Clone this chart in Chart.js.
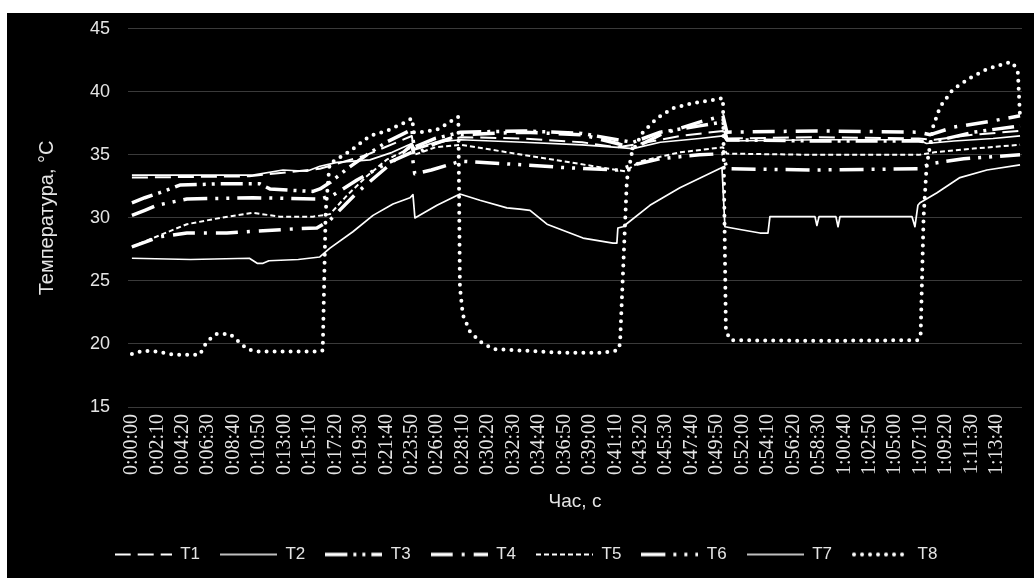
<!DOCTYPE html>
<html lang="uk">
<head>
<meta charset="utf-8">
<title>Температура T1–T8</title>
<script src="https://cdn.jsdelivr.net/npm/chart.js@4.4.1/dist/chart.umd.min.js"></script>
<style>
  html, body { margin: 0; padding: 0; background: #fff; }
  #chart { display: block; }
</style>
</head>
<body>
<canvas id="chart" width="1034" height="578"></canvas>
<script>
// Підписи осі часу (крок 2:10 = 130 с)
const tickStep = 130;
const tickLabels = [
    '0:00:00', '0:02:10', '0:04:20', '0:06:30', '0:08:40', '0:10:50', '0:13:00',
    '0:15:10', '0:17:20', '0:19:30', '0:21:40', '0:23:50', '0:26:00', '0:28:10',
    '0:30:20', '0:32:30', '0:34:40', '0:36:50', '0:39:00', '0:41:10', '0:43:20',
    '0:45:30', '0:47:40', '0:49:50', '0:52:00', '0:54:10', '0:56:20', '0:58:30',
    '1:00:40', '1:02:50', '1:05:00', '1:07:10', '1:09:20', '1:11:30', '1:13:40'
];
const yTicks = [15, 20, 25, 30, 35, 40, 45];

// Дані: [час, с ; температура, °C]
const t1 = [[0,33.2],[600,33.3],[960,33.9],[1050,34.3],[1200,35.0],[1430,36.5],[1442,35.4],[1550,35.9],[1680,36.4],[2000,36.3],[2300,36.0],[2480,35.6],[2600,35.9],[2800,36.5],[3020,36.9],[3040,36.3],[3500,36.4],[4020,36.3],[4100,36.2],[4300,36.6],[4538,36.9]];
const t2 = [[0,26.8],[300,26.7],[600,26.8],[640,26.4],[670,26.4],[700,26.6],[850,26.7],[960,26.9],[1012,27.6],[1129,28.9],[1232,30.2],[1334,31.1],[1421,31.6],[1436,31.85],[1446,30.0],[1559,31.0],[1676,31.9],[1778,31.4],[1916,30.8],[1983,30.7],[2034,30.6],[2121,29.5],[2305,28.4],[2458,28.0],[2478,28.0],[2483,29.2],[2509,29.3],[2647,31.0],[2800,32.4],[3015,34.0],[3030,29.3],[3100,29.1],[3209,28.8],[3250,28.8],[3260,30.1],[3490,30.1],[3500,29.4],[3511,30.1],[3597,30.1],[3608,29.3],[3618,30.1],[3986,30.1],[4001,29.3],[4016,31.0],[4027,31.2],[4114,32.0],[4231,33.2],[4369,33.8],[4538,34.2]];
const t3 = [[0,31.2],[66,31.6],[143,32.0],[204,32.35],[245,32.6],[450,32.7],[654,32.7],[705,32.3],[800,32.2],[925,32.1],[961,32.3],[1012,32.8],[1100,33.9],[1200,35.0],[1300,36.0],[1430,37.0],[1442,35.6],[1550,36.3],[1680,36.8],[2000,36.9],[2300,36.7],[2480,36.2],[2560,36.0],[2700,36.8],[2900,37.3],[3020,37.6],[3040,36.2],[3500,36.1],[4020,36.1],[4080,36.0],[4300,36.8],[4538,37.3]];
const t4 = [[0,27.7],[143,28.5],[281,28.8],[485,28.8],[792,29.1],[945,29.2],[1010,29.8],[1150,32.0],[1300,34.0],[1430,35.8],[1442,35.0],[1550,35.9],[1680,36.6],[2000,36.8],[2300,36.6],[2480,35.9],[2560,35.5],[2700,36.6],[2900,37.6],[3020,38.1],[3040,36.8],[3500,36.9],[4020,36.8],[4080,36.6],[4200,37.2],[4400,37.7],[4538,38.1]];
const t5 = [[0,27.7],[107,28.4],[281,29.5],[450,30.0],[618,30.4],[756,30.1],[925,30.1],[1012,30.3],[1100,31.8],[1200,33.3],[1300,34.6],[1430,35.6],[1442,35.0],[1550,35.6],[1680,35.8],[1800,35.5],[2000,35.0],[2200,34.5],[2400,34.0],[2520,33.7],[2600,34.5],[2800,35.2],[3020,35.6],[3040,35.1],[3500,35.0],[4020,35.0],[4100,35.2],[4300,35.5],[4538,35.8]];
const t6 = [[0,30.2],[66,30.6],[128,31.0],[281,31.5],[618,31.6],[961,31.5],[1027,31.8],[1150,33.0],[1300,34.3],[1430,35.2],[1445,33.5],[1530,33.8],[1680,34.5],[1900,34.3],[2200,34.0],[2480,33.8],[2560,34.2],[2700,34.7],[2900,35.0],[3020,35.1],[3040,33.9],[3500,33.8],[4020,33.9],[4080,34.3],[4250,34.7],[4538,35.0]];
const t7 = [[0,33.4],[618,33.4],[772,33.8],[894,33.7],[961,34.1],[1048,34.4],[1216,34.6],[1330,35.2],[1430,35.9],[1445,35.5],[1550,36.0],[1680,36.2],[2000,36.0],[2300,35.8],[2480,35.6],[2560,35.5],[2700,36.0],[2900,36.3],[3020,36.5],[3040,36.1],[3500,36.2],[4020,36.2],[4060,35.9],[4200,36.1],[4400,36.3],[4538,36.5]];
const t8 = [[0,19.2],[56,19.45],[128,19.4],[210,19.15],[347,19.15],[383,20.2],[434,20.8],[501,20.8],[537,20.3],[588,19.6],[639,19.4],[961,19.4],[975,19.5],[990,30.5],[1010,34.3],[1114,35.3],[1216,36.5],[1303,36.9],[1385,37.5],[1431,37.9],[1441,36.8],[1472,36.8],[1559,37.0],[1615,37.5],[1661,38.0],[1668,38.0],[1676,24.5],[1691,22.3],[1727,21.0],[1778,20.2],[1845,19.6],[1967,19.5],[2202,19.3],[2407,19.3],[2483,19.5],[2494,20.0],[2529,33.0],[2555,35.2],[2611,36.8],[2683,37.9],[2764,38.7],[2867,39.1],[2969,39.35],[3020,39.5],[3035,21.0],[3060,20.3],[3500,20.25],[4016,20.3],[4030,20.7],[4045,30.0],[4060,34.0],[4093,37.2],[4129,38.8],[4195,40.2],[4282,41.1],[4369,41.8],[4471,42.3],[4502,42.3],[4527,41.5],[4538,38.0]];

const seriesNames = ['T1', 'T2', 'T3', 'T4', 'T5', 'T6', 'T7', 'T8'];
const seriesData = [t1, t2, t3, t4, t5, t6, t7, t8];

// Стиль ліній
const lineStyles = [
    { dash: [16, 7], width: 2, cap: 'butt' },
    { dash: [], width: 1.7, cap: 'butt' },
    { dash: [22, 6, 3, 6, 3, 6], width: 3.5, cap: 'butt' },
    { dash: [22, 9, 3, 9], width: 3.5, cap: 'butt' },
    { dash: [5, 3], width: 2, cap: 'butt' },
    { dash: [24, 8, 3, 8, 3, 8], width: 3.5, cap: 'butt' },
    { dash: [], width: 1.7, cap: 'butt' },
    { dash: [0, 8], width: 4, cap: 'round' }
];

const textColor = '#e4e4e4';
const legendLineWidth = 57;

// Зразок лінії для легенди (Chart.js не застосовує штрих до pointStyle 'line')
function legendSample(style) {
    const c = document.createElement('canvas');
    c.width = legendLineWidth;
    c.height = 8;
    const g = c.getContext('2d');
    g.strokeStyle = '#fff';
    g.lineWidth = style.width;
    g.lineCap = style.cap;
    g.setLineDash(style.dash);
    g.beginPath();
    const pad = style.cap === 'round' ? 2 : 0;
    g.moveTo(pad, 4);
    g.lineTo(legendLineWidth - pad, 4);
    g.stroke();
    return c;
}

const frame = {
    id: 'frame',
    beforeDraw(chart) {
        const c = chart.ctx;
        c.save();
        c.fillStyle = '#fff';
        c.fillRect(0, 0, chart.width, chart.height);
        c.fillStyle = '#000';
        c.fillRect(7, 13, chart.width - 7, chart.height - 13);
        c.restore();
    }
};

const datasets = seriesNames.map((name, i) => ({
    label: name,
    data: seriesData[i].map(p => ({ x: p[0], y: p[1] })),
    borderColor: '#fff',
    backgroundColor: '#fff',
    borderWidth: lineStyles[i].width,
    borderDash: lineStyles[i].dash,
    borderCapStyle: lineStyles[i].cap,
    borderJoinStyle: 'round',
    pointRadius: 0,
    pointStyle: legendSample(lineStyles[i]),
    tension: 0
}));

new Chart(document.getElementById('chart'), {
    type: 'line',
    data: { datasets },
    plugins: [frame],
    options: {
        responsive: false,
        animation: false,
        events: [],
        layout: { padding: { top: 27, left: 30, right: 12, bottom: 5 } },
        plugins: {
            tooltip: { enabled: false },
            legend: {
                position: 'bottom',
                labels: {
                    color: textColor,
                    font: { family: 'Liberation Sans', size: 17 },
                    usePointStyle: true,
                    pointStyleWidth: legendLineWidth,
                    padding: 20
                }
            }
        },
        scales: {
            x: {
                type: 'linear',
                min: -20,
                max: 4548,
                afterFit: (scale) => { scale.height = 119; },
                afterBuildTicks: (scale) => {
                    scale.ticks = tickLabels.map((_, i) => ({ value: i * tickStep }));
                },
                ticks: {
                    autoSkip: false,
                    maxRotation: 90,
                    minRotation: 90,
                    padding: 7,
                    color: textColor,
                    font: { family: 'Liberation Serif', size: 20 },
                    callback: (value) => tickLabels[Math.round(value / tickStep)]
                },
                grid: { display: false, drawTicks: false },
                border: { display: false },
                title: {
                    display: true,
                    text: 'Час, с',
                    color: textColor,
                    font: { family: 'Liberation Sans', size: 19 },
                    padding: { top: 0, bottom: 13 }
                }
            },
            y: {
                min: 15,
                max: 45,
                afterFit: (scale) => { scale.width = 98; },
                afterBuildTicks: (scale) => {
                    scale.ticks = yTicks.map(v => ({ value: v }));
                },
                ticks: {
                    padding: 18,
                    color: textColor,
                    font: { family: 'Liberation Sans', size: 18 }
                },
                grid: { color: '#3a3a3a', lineWidth: 1, drawTicks: false },
                border: { display: false },
                title: {
                    display: true,
                    text: 'Температура, °C',
                    color: textColor,
                    font: { family: 'Liberation Sans', size: 20 },
                    padding: { top: 5, bottom: 0 }
                }
            }
        }
    }
});
</script>
</body>
</html>
